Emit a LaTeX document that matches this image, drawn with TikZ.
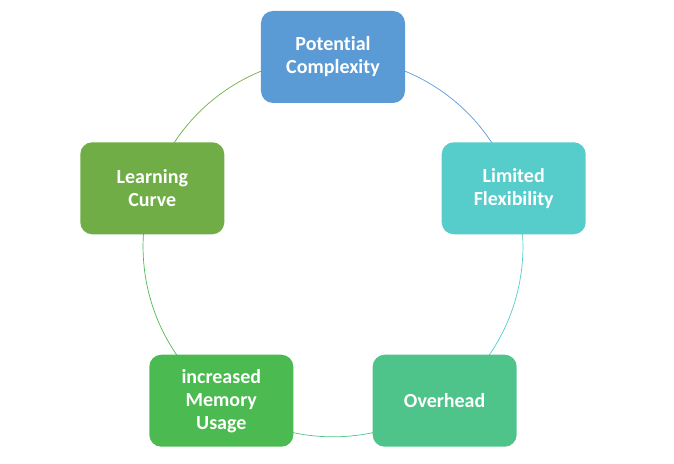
\documentclass[tikz,border=0pt]{standalone}
\usepackage{fontspec}
\setmainfont{Carlito}[Ligatures=NoCommon]
\usetikzlibrary{backgrounds}
\definecolor{potblue}{HTML}{5B9BD5}
\definecolor{limteal}{HTML}{56CCCB}
\definecolor{ovhgreen}{HTML}{4EC48B}
\definecolor{memgreen}{HTML}{4BBA50}
\definecolor{leagreen}{HTML}{70AD47}
\begin{document}
\begin{tikzpicture}[x=1pt,y=1pt,
    item/.style={rounded corners=12pt, minimum width=144pt, minimum height=92pt,
      text width=140pt, align=center, inner sep=0pt, text=white,
      font=\bfseries\fontsize{20}{23}\selectfont},
    ring/.style={line width=0.7pt}]
  \def\radius{190}
  \useasboundingbox (-333,-216) rectangle (341,247);
  % boxes placed round the circle, clockwise from the top
  \foreach \name/\ang/\col/\txt in {pc/90/potblue/{Potential\\Complexity},
      lf/18/limteal/{Limited\\Flexibility}, oh/-54/ovhgreen/{Overhead},
      mu/-126/memgreen/{increased\\Memory\\Usage}, lc/162/leagreen/{Learning\\Curve}} {
    \node[item, fill=\col] (\name) at (\ang:\radius) {\txt};
  }
  % arcs of the ring, each in the colour of the box it leaves
  \begin{scope}[on background layer]
    \foreach \from/\to/\col in {pc/lf/potblue, lf/oh/limteal, oh/mu/ovhgreen,
        mu/lc/memgreen, lc/pc/leagreen} {
      \draw[ring, draw=\col] (\from.center) to[bend left=36, looseness=0.94] (\to.center);
    }
  \end{scope}
\end{tikzpicture}
\end{document}
